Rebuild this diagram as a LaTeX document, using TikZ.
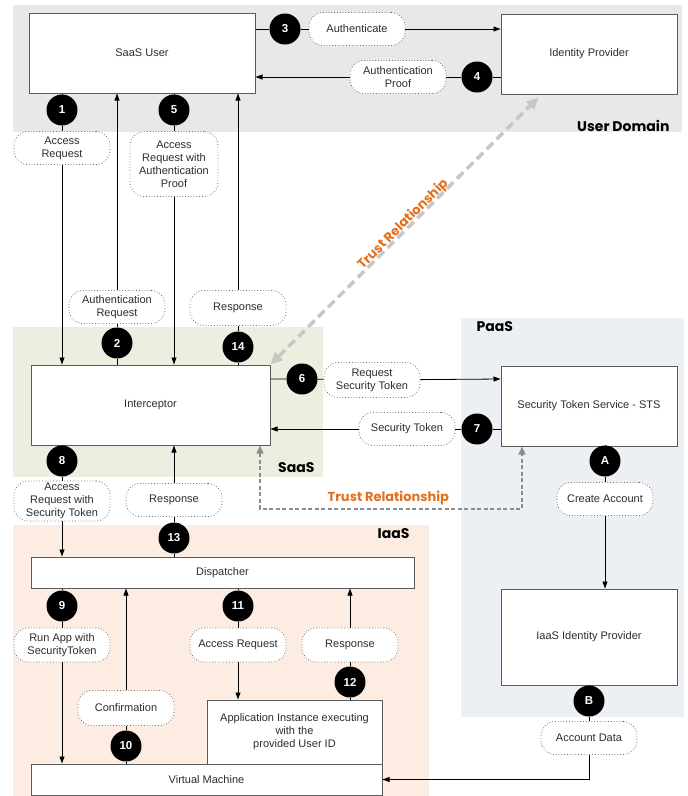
\documentclass[tikz,border=0pt]{standalone}
\usepackage{fontspec}
\setmainfont{Liberation Sans}
\newfontfamily\headfont{Poppins}
\usetikzlibrary{arrows.meta}
\definecolor{userbg}{RGB}{232,232,232}
\definecolor{saasbg}{RGB}{235,239,224}
\definecolor{paasbg}{RGB}{236,240,245}
\definecolor{iaasbg}{RGB}{252,236,225}
\definecolor{trustorange}{RGB}{226,112,28}
\definecolor{boxline}{RGB}{90,90,90}
\definecolor{textgray}{RGB}{45,45,45}
\tikzset{
	procbox/.style={draw=boxline, line width=1pt, fill=white, text=textgray,
		font=\fontsize{11}{13}\selectfont, align=center, inner sep=0pt},
	tag/.style={draw=black!55, dotted, line width=0.8pt, fill=white, rounded corners=14pt,
		text=textgray, font=\fontsize{11}{13}\selectfont, align=center,
		minimum width=96, minimum height=33, inner sep=1pt},
	num/.style={circle, fill=black, text=white, font=\fontsize{11.5}{13}\selectfont\bfseries,
		minimum size=31, inner sep=0pt},
	flow/.style={-{Triangle[length=7pt, width=5pt]}, line width=0.8pt},
	region/.style={font=\headfont\bfseries\fontsize{14}{16}\selectfont},
	trust label/.style={text=trustorange, font=\headfont\bfseries\fontsize{13}{15}\selectfont},
	high trust/.style={{Triangle[length=12pt, width=11pt]}-{Triangle[length=12pt, width=11pt]},
		draw=black!22, line width=3.5pt, dash pattern=on 9pt off 5pt},
	low trust/.style={{Triangle[length=8pt, width=7pt]}-{Triangle[length=8pt, width=7pt]},
		draw=black!45, line width=1.5pt, dash pattern=on 4pt off 2.5pt}
}

\begin{document}
\begin{tikzpicture}[x=1pt, y=-1pt]
	\useasboundingbox (0,0) rectangle (688,796);
	\fill[userbg] (13,5) rectangle (682,132);
	\fill[saasbg] (13,327) rectangle (323,477);
	\fill[paasbg] (461,318) rectangle (684,717);
	\fill[iaasbg] (13,525) rectangle (429,796);
	\node[region, anchor=east] at (673,126) {User Domain};
	\node[region, anchor=east] at (318,468) {SaaS};
	\node[region, anchor=west] at (473,327) {PaaS};
	\node[region, anchor=east] at (413,534) {IaaS};

	\node[procbox, minimum width=226, minimum height=80] (user) at (142,53) {SaaS User};
	\node[procbox, minimum width=176, minimum height=80] (idp) at (589,54) {Identity Provider};
	\node[procbox, minimum width=239, minimum height=80] (icpt) at (150.5,405) {Interceptor};
	\node[procbox, minimum width=176, minimum height=80] (sts) at (589,406) {Security Token Service - STS};
	\node[procbox, minimum width=383, minimum height=31] (disp) at (222.5,572.5) {Dispatcher};
	\node[procbox, minimum width=176, minimum height=96] (iidp) at (589,637) {IaaS Identity Provider};
	\node[procbox, minimum width=175, minimum height=64] (app) at (294.5,732) {Application Instance executing\\with the\\provided User ID};
	\node[procbox, minimum width=351, minimum height=31] (vm) at (206.5,779.5) {Virtual Machine};

	\node[num] (c1) at (62,110) {1};
	\node[num] (c2) at (117,343) {2};
	\node[num] (c3) at (285,29) {3};
	\node[num] (c4) at (477,77) {4};
	\node[num] (c5) at (174,110) {5};
	\node[num] (c6) at (302,379) {6};
	\node[num] (c7) at (477,429) {7};
	\node[num] (c8) at (62,461) {8};
	\node[num] (c9) at (62,606) {9};
	\node[num] (c10) at (126,746) {10};
	\node[num] (c11) at (238,606) {11};
	\node[num] (c12) at (350,682) {12};
	\node[num] (c13) at (174,538) {13};
	\node[num] (c14) at (238,347) {14};
	\node[num] (cA) at (605,461) {A};
	\node[num] (cB) at (589,701) {B};

	\node[tag] (l1) at (62,148) {Access\\Request};
	\node[tag] (l2) at (117,307) {Authentication\\Request};
	\node[tag] (l3) at (357,29) {Authenticate};
	\node[tag] (l4) at (398,77) {Authentication\\Proof};
	\node[tag, minimum width=88, minimum height=65] (l5) at (174,164) {Access\\Request with\\Authentication\\Proof};
	\node[tag, minimum height=35] (l6) at (372,380) {Request\\Security Token};
	\node[tag] (l7) at (407,429) {Security Token};
	\node[tag, minimum height=40] (l8) at (62,501) {Access\\Request with\\Security Token};
	\node[tag, minimum height=34] (l9) at (62,645) {Run App with\\SecurityToken};
	\node[tag, minimum height=35] (l10) at (126,708) {Confirmation};
	\node[tag, minimum height=34] (l11) at (238,645) {Access Request};
	\node[tag, minimum height=34] (l12) at (350,645) {Response};
	\node[tag] (l13) at (174,500) {Response};
	\node[tag, minimum height=35] (l14) at (238,308) {Response};
	\node[tag] (lA) at (605,499) {Create Account};
	\node[tag] (lB) at (589,738) {Account Data};

	\draw[flow] (user.south -| c1) -- (c1) -- (l1) -- (icpt.north -| c1);
	\draw[flow] (icpt.north -| c2) -- (c2) -- (l2) -- (user.south -| c2);
	\draw[flow] (user.east |- c3) -- (c3) -- (l3) -- (idp.west |- c3);
	\draw[flow] (idp.west |- c4) -- (c4) -- (l4) -- (user.east |- c4);
	\draw[flow] (user.south -| c5) -- (c5) -- (l5) -- (icpt.north -| c5);
	\draw[flow] (icpt.east |- c6) -- (c6) -- (l6) -- (sts.west |- c6);
	\draw[flow] (sts.west |- c7) -- (c7) -- (l7) -- (icpt.east |- c7);
	\draw[flow] (icpt.south -| c8) -- (c8) -- (l8) -- (disp.north -| c8);
	\draw[flow] (disp.south -| c9) -- (c9) -- (l9) -- (vm.north -| c9);
	\draw[flow] (vm.north -| c10) -- (c10) -- (l10) -- (disp.south -| c10);
	\draw[flow] (disp.south -| c11) -- (c11) -- (l11) -- (app.north -| c11);
	\draw[flow] (app.north -| c12) -- (c12) -- (l12) -- (disp.south -| c12);
	\draw[flow] (disp.north -| c13) -- (c13) -- (l13) -- (icpt.south -| c13);
	\draw[flow] (icpt.north -| c14) -- (c14) -- (l14) -- (user.south -| c14);
	\draw[flow] (sts.south -| cA) -- (cA) -- (lA) -- (iidp.north -| cA);
	\draw[flow] (iidp.south -| cB) -- (cB) -- (lB) |- (vm.east);

	\draw[high trust] (icpt.north east) -- ([xshift=38pt, yshift=-3pt]idp.south west)
		node[pos=0.51, sloped, above=-3pt, inner sep=0pt, trust label] {Trust Relationship};
	\coordinate (tl) at (260,509);
	\coordinate (tr) at (522,509);
	\draw[low trust] (icpt.south -| tl) -- (tl) -- (tr)
		node[pos=0.49, above, trust label] {Trust Relationship} -- (sts.south -| tr);
\end{tikzpicture}
\end{document}
